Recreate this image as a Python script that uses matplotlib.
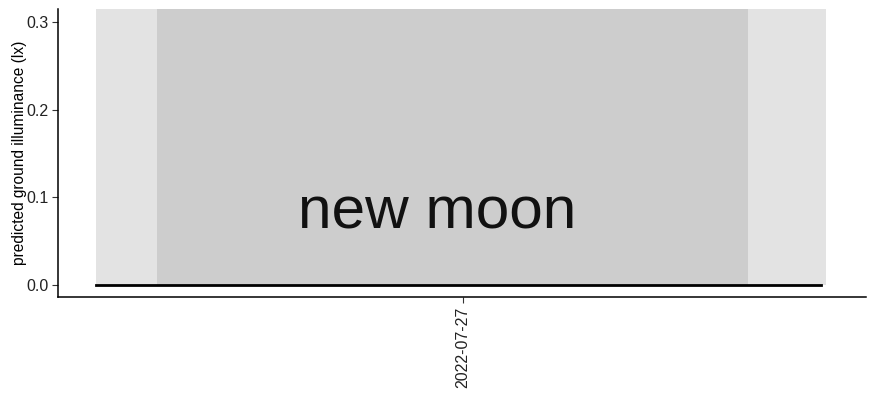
import numpy as np
import pandas as pd
import matplotlib; matplotlib.use('Agg'); import matplotlib.pyplot as plt
import matplotlib.dates as mdates

plt.rcParams['font.family'] = ['Liberation Sans', 'DejaVu Sans']

# night of 2022-07-26/27
twilight = [pd.Timestamp('2022-07-26 19:06'), pd.Timestamp('2022-07-27 04:50')]
night = [pd.Timestamp('2022-07-26 19:55'), pd.Timestamp('2022-07-27 03:48')]
times = [pd.Timestamp('2022-07-26 19:06'), pd.Timestamp('2022-07-27 00:00'), pd.Timestamp('2022-07-27 04:46')]
illum = [0.0, 0.0, 0.0]
ticks = [pd.Timestamp('2022-07-27')]
label_time = pd.Timestamp('2022-07-26 23:39')
label_text = 'new moon'

fig = plt.figure(figsize=(8.77, 4.15), dpi=100)
ax = fig.add_axes([58/877, 1-297/415, (866-58)/877, (297-9)/415])

ytop = 0.3148
ax.fill_between(twilight, 0, ytop, color='#e3e3e3', lw=0, zorder=0)
ax.fill_between(night, 0, ytop, color='#cdcdcd', lw=0, zorder=1)
ax.plot(times, illum, color='black', lw=2, zorder=3)
ax.text(label_time, 0.082, label_text, fontsize=43.5, ha='center', va='center', color='#111111', zorder=4)

mid = pd.Timestamp('2022-07-27')
ax.set_xlim(mid - pd.Timedelta(hours=5.4), mid + pd.Timedelta(hours=5.373))
ax.set_ylim(-0.0137, ytop)
ax.set_yticks([0.0, 0.1, 0.2, 0.3])
ax.set_xticks(ticks)
ax.xaxis.set_major_formatter(mdates.DateFormatter('%Y-%m-%d'))
for lab in ax.get_xticklabels():
    lab.set_rotation(90)
    lab.set_va('top')
ax.tick_params(labelsize=11.5, colors='#333333', length=4, width=0.8, pad=3)
ax.tick_params(labelcolor='#222222')
ax.set_ylabel('predicted ground illuminance (lx)', fontsize=11.2, labelpad=-1)
for s in ['top', 'right']:
    ax.spines[s].set_visible(False)
for s in ['left', 'bottom']:
    ax.spines[s].set_linewidth(1.1)
ax.set_facecolor('white')
fig.savefig('out.png', dpi=100)
